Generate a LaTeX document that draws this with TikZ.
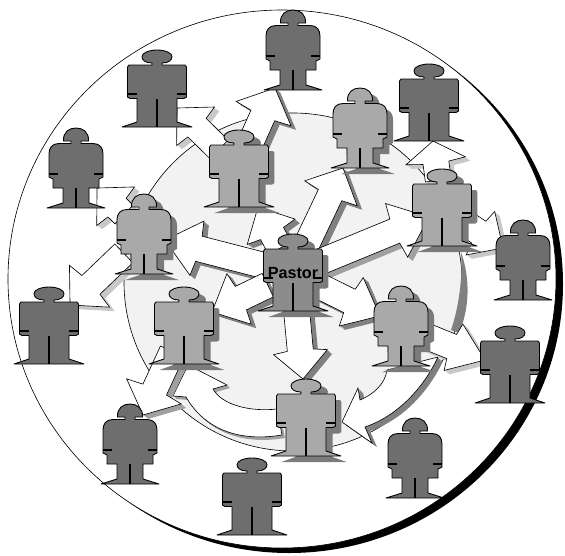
\documentclass[tikz,border=0pt]{standalone}
\usepackage{fontspec}
\setsansfont{Liberation Sans}
\usetikzlibrary{calc}

\definecolor{darkfig}{HTML}{6E6E6E}
\definecolor{lightfig}{HTML}{A9A9A9}
\definecolor{pastorfig}{HTML}{8C8C8C}
\definecolor{figshade}{HTML}{7B7B7B}
\definecolor{discgray}{HTML}{F2F2F2}
\definecolor{banddark}{HTML}{808080}
\definecolor{bandmid}{HTML}{A0A0A0}
\definecolor{bandlight}{HTML}{C8C8C8}

\newcommand{\manshape}{(-5,-24) -- (-5,-26) .. controls (-12,-26) and (-15,-29) .. (-15,-32.5) .. controls (-15,-36) and (-8,-39) .. (0,-39) .. controls (8,-39) and (15,-36) .. (15,-32.5) .. controls (15,-29) and (12,-26) .. (5,-26) -- (5,-24) -- (28,-24) -- (29.5,-22) -- (29.5,8) -- (27,9.5) -- (20,9.5) -- (20,33) -- (35,38) -- (-35,38) -- (-20,33) -- (-20,9.5) -- (-27,9.5) -- (-29.5,8) -- (-29.5,-22) -- (-28,-24) -- cycle}
\newcommand{\womanshape}{(-5,-24.5) -- (-5,-27) -- (-12.5,-27) .. controls (-13,-36) and (-7,-40) .. (0,-40) .. controls (7,-40) and (13,-36) .. (12.5,-27) -- (5,-27) -- (5,-24.5) -- (17,-24.5) .. controls (24,-24.5) and (27,-20) .. (27,-14) -- (27,9) -- (23,11) -- (23,20) -- (13,20) -- (13,35) -- (29,40) -- (-29,40) -- (-13,35) -- (-13,20) -- (-23,20) -- (-23,11) -- (-27,9) -- (-27,-14) .. controls (-27,-20) and (-24,-24.5) .. (-17,-24.5) -- cycle}

\tikzset{
	figline/.style={draw=black, line width=0.5pt, line join=round},
	thinline/.style={draw=black, line width=0.35pt},
	limbline/.style={draw=black, line width=1pt},
	pics/man/.style n args={2}{code={
		\path [fill=#2, shift={(8,6)}, xscale=0.93] \manshape;
		\path [figline, fill=#1] \manshape;
		\draw [limbline] (-29.5,5) -- (-20,5);
		\draw [limbline] (20,5) -- (29.5,5);
		\draw [limbline] (0,10) -- (0,38);
	}},
	pics/woman/.style n args={2}{code={
		\path [fill=#2, shift={(8,6)}, xscale=0.93] \womanshape;
		\path [figline, fill=#1] \womanshape;
		\draw [limbline] (-27,6) -- (-18,6);
		\draw [limbline] (18,6) -- (27,6);
		\draw [limbline] (0,20) -- (0,40);
	}}
}

% #1 from, #2 tip, #3 band colour, #4 barb half width, #5 head length
\newcommand{\blockarrow}[5]{
	\path let \p1=($(#2)-(#1)$) in \pgfextra{
		\pgfmathsetmacro\arrang{atan2(\y1,\x1)}
		\pgfmathsetmacro\arrlen{veclen(\x1,\y1)/0.569}
		\xdef\arrang{\arrang}\xdef\arrlen{\arrlen}};
	\pgfmathsetmacro\arrneck{\arrlen-#5}
	\pgfmathsetmacro\arrnotch{\arrlen-#5-2}
	\foreach \s in {0.2,0.4,...,1.01} {
		\fill [#3, shift={(#1)}, shift={(\s*5,\s*4)}, rotate=\arrang] (28,-13) -- (\arrnotch,-13) -- (\arrneck,-#4) -- (\arrlen,0) -- (\arrneck,#4) -- (\arrnotch,13) -- (28,13) -- cycle;
	}
	\draw [thinline, fill=white, shift={(#1)}, rotate=\arrang] (28,-13) -- (\arrnotch,-13) -- (\arrneck,-#4) -- (\arrlen,0) -- (\arrneck,#4) -- (\arrnotch,13) -- (28,13) -- cycle;
}

\begin{document}
\begin{tikzpicture}[x=0.02cm, y=-0.02cm]
	\useasboundingbox (0,0) rectangle (565,555);

	\fill [black] (289,284) ellipse [x radius=274, y radius=269];
	\draw [thinline, fill=white] (282,279) ellipse [x radius=274, y radius=269];
	\draw [thinline, fill=discgray] (293,282) circle [radius=169];
	\fill [banddark] (461,252) .. controls (471,280) and (469,310) .. (459,333) -- (451,330) .. controls (458,310) and (463,280) .. (461,252) -- cycle;

	\coordinate (pastor) at (293,273);
	\coordinate (innerb) at (239,169);
	\coordinate (innerc) at (360,128);
	\coordinate (innerd) at (442,208);
	\coordinate (innere) at (144,234);
	\coordinate (innerf) at (184,326);
	\coordinate (innerg) at (401,326);
	\coordinate (innerh) at (306,418);
	\coordinate (outera) at (293,50);
	\coordinate (outerb) at (157,89);
	\coordinate (outerc) at (429,103);
	\coordinate (outerd) at (76,168);
	\coordinate (outere) at (49,326);
	\coordinate (outerf) at (523,260);
	\coordinate (outerg) at (510,365);
	\coordinate (outerh) at (130,444);
	\coordinate (outeri) at (252,497);
	\coordinate (outerj) at (415,458);

	% curved arrows
	\foreach \s in {0.25,0.5,...,1.01} {
		\fill [bandmid, shift={(\s*3,\s*3)}] (188,365) -- (227,385) -- (213,389) .. controls (222,405) and (250,412) .. (277,409) -- (282,435) .. controls (240,442) and (205,430) .. (186,397) -- (173,396) -- cycle;
		\fill [banddark, shift={(\s*5,\s*4)}] (342,422) -- (358,388) -- (360,400) .. controls (372,395) and (385,385) .. (387,370) -- (438,357) .. controls (425,385) and (400,415) .. (365,427) -- (372,443) -- cycle;
	}
	\draw [thinline, fill=white] (188,365) -- (227,385) -- (213,389) .. controls (222,405) and (250,412) .. (277,409) -- (282,435) .. controls (240,442) and (205,430) .. (186,397) -- (173,396) -- cycle;
	\draw [thinline, fill=white] (342,422) -- (358,388) -- (360,400) .. controls (372,395) and (385,385) .. (387,370) -- (438,357) .. controls (425,385) and (400,415) .. (365,427) -- (372,443) -- cycle;

	% straight arrows
	\coordinate (tipb) at (258,207);
	\coordinate (tipc) at (343,168);
	\coordinate (tipd) at (429,217);
	\coordinate (tipe) at (165,240);
	\coordinate (tipf) at (212,312);
	\coordinate (tipg) at (380,316);
	\coordinate (tiph) at (303,379);
	\coordinate (tipoa) at (275,88);
	\coordinate (tipob) at (177,108);
	\coordinate (tipoc) at (433,141);
	\coordinate (tipod) at (97,188);
	\coordinate (tipoe) at (70,305);
	\coordinate (tipof) at (503,248);
	\coordinate (tipog) at (485,360);
	\coordinate (tipoh) at (143,415);
	\blockarrow{innerb}{tipoa}{banddark}{30}{28}
	\blockarrow{innerb}{tipob}{bandlight}{27}{26}
	\blockarrow{innerd}{tipoc}{bandlight}{30}{20}
	\blockarrow{innerd}{tipof}{bandlight}{26}{27}
	\blockarrow{innerg}{tipog}{bandlight}{25}{34}
	\blockarrow{innere}{tipod}{bandlight}{27}{26}
	\blockarrow{innere}{tipoe}{bandlight}{29}{27}
	\blockarrow{innerf}{tipoh}{bandmid}{30}{26}
	\blockarrow{pastor}{tipb}{banddark}{27}{28}
	\blockarrow{pastor}{tipc}{banddark}{29}{28}
	\blockarrow{pastor}{tipd}{bandmid}{29}{35}
	\blockarrow{pastor}{tipe}{banddark}{28}{33}
	\blockarrow{pastor}{tipf}{banddark}{28}{30}
	\blockarrow{pastor}{tipg}{banddark}{27}{32}
	\blockarrow{pastor}{tiph}{banddark}{27}{27}

	% people
	\pic at (outera) {woman={darkfig}{none}};
	\pic at (outerb) {man={darkfig}{none}};
	\pic at (outerc) {man={darkfig}{none}};
	\pic at (outerd) {woman={darkfig}{none}};
	\pic at (outere) {man={darkfig}{none}};
	\pic at (outerf) {woman={darkfig}{none}};
	\pic at (outerg) {man={darkfig}{none}};
	\pic at (outerh) {woman={darkfig}{none}};
	\pic at (outeri) {man={darkfig}{none}};
	\pic at (outerj) {woman={darkfig}{none}};
	\pic at (innerb) {man={lightfig}{figshade}};
	\pic at (innerc) {woman={lightfig}{figshade}};
	\pic at (innerd) {man={lightfig}{figshade}};
	\pic at (innere) {woman={lightfig}{figshade}};
	\pic at (innerf) {man={lightfig}{figshade}};
	\pic at (innerg) {woman={lightfig}{figshade}};
	\pic at (innerh) {man={lightfig}{figshade}};
	\pic at (pastor) {man={pastorfig}{figshade}};
	\node at (pastor) [font=\sffamily\bfseries\fontsize{9.2}{11}\selectfont, inner sep=0pt] (pastorlabel) {Pastor};
\end{tikzpicture}
\end{document}
